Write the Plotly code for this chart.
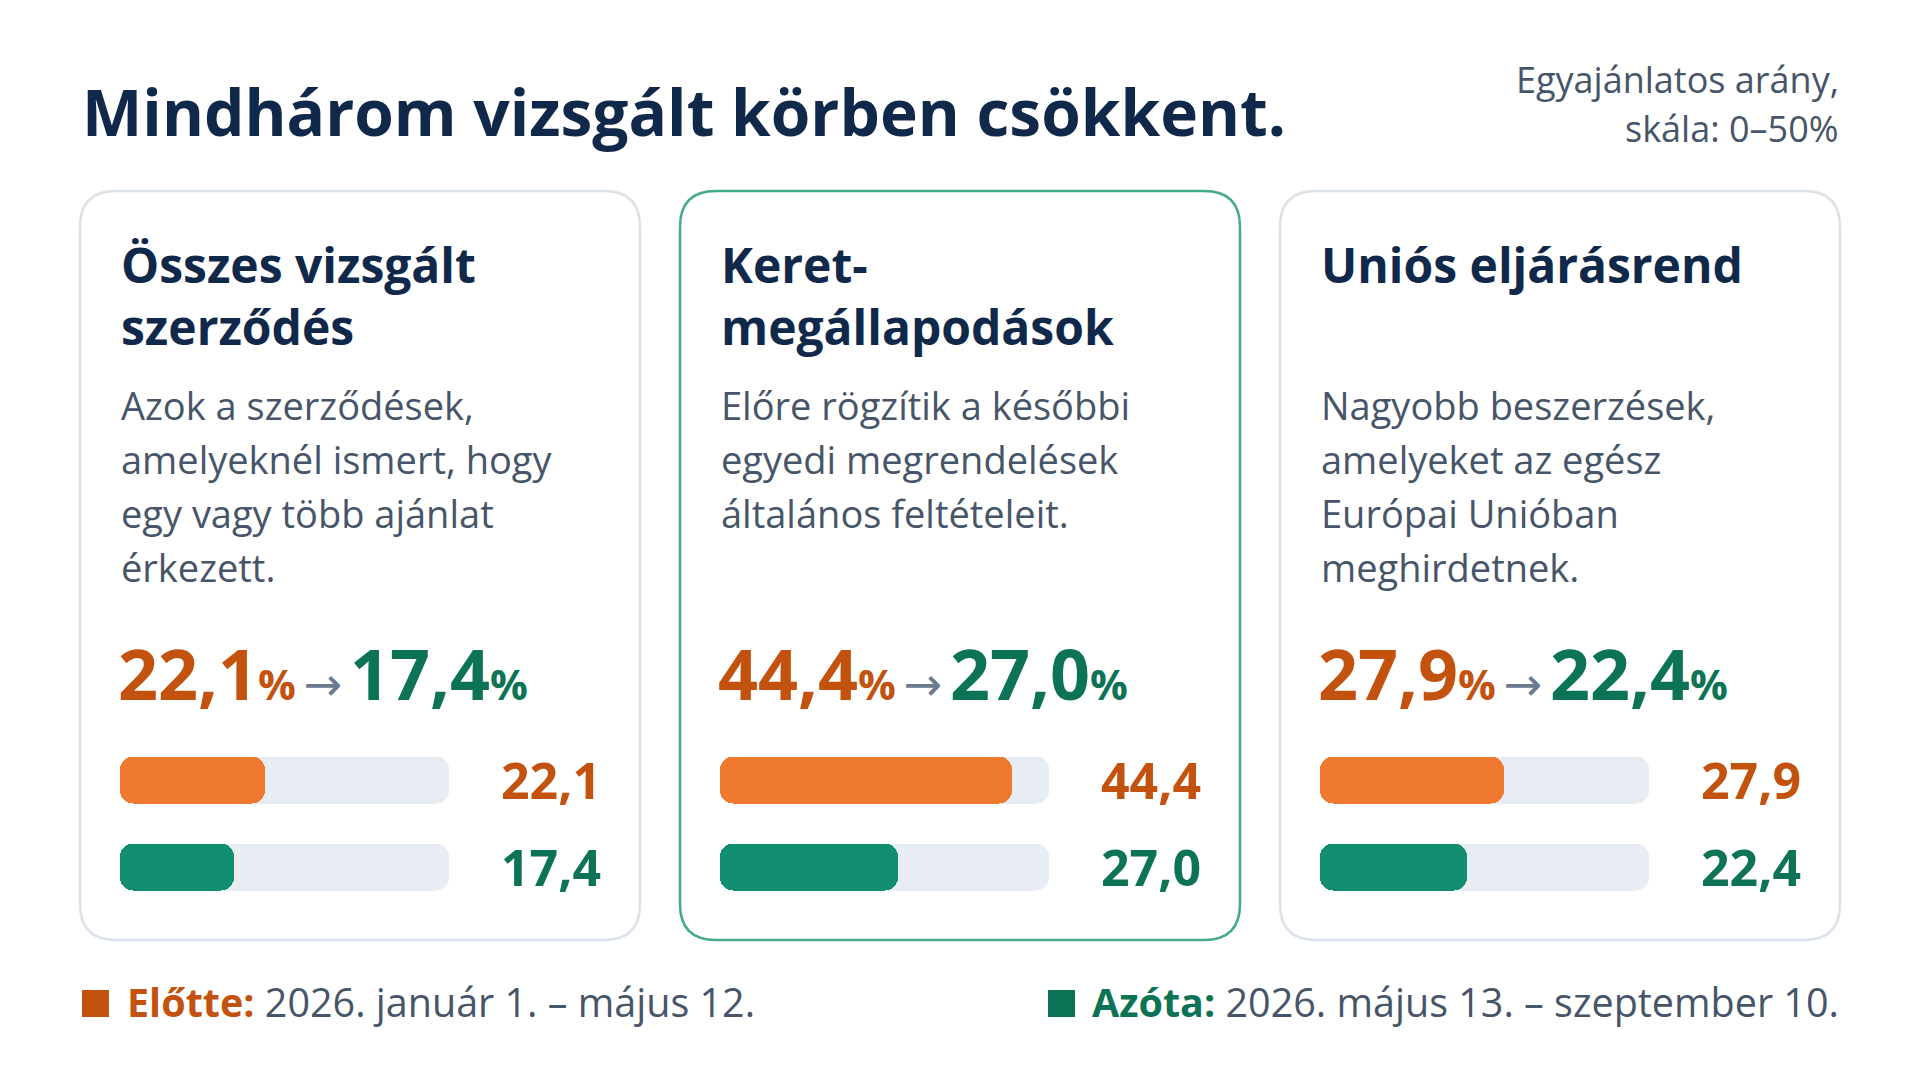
import plotly.graph_objects as go

# ---------------- data ----------------
card_titles = [["Összes vizsgált", "szerződés"], ["Keret-", "megállapodások"], ["Uniós eljárásrend"]]
card_desc = [
    ["Azok a szerződések,", "amelyeknél ismert, hogy", "egy vagy több ajánlat", "érkezett."],
    ["Előre rögzítik a későbbi", "egyedi megrendelések", "általános feltételeit."],
    ["Nagyobb beszerzések,", "amelyeket az egész", "Európai Unióban", "meghirdetnek."],
]
before_vals = [22.1, 44.4, 27.9]
after_vals = [17.4, 27.0, 22.4]
scale_max = 50
period_names = ["Előtte:", "Azóta:"]
period_dates = ["2026. január 1. – május 12.", "2026. május 13. – szeptember 10."]
title_text = "Mindhárom vizsgált körben csökkent."
subtitle_lines = ["Egyajánlatos arány,", "skála: 0–50%"]

# ---------------- style ----------------
W, H = 1920, 1080
FONT = "Open Sans"
NAVY = "#10284a"
GRAY = "#475569"
ORANGE_T = "#c4520f"
ORANGE_B = "#ef7a2f"
GREEN_T = "#0d7356"
GREEN_B = "#128f72"
TRACK = "#e8edf4"
ARROW = "#6b7b8f"
CARD_BORDER = "#dbe2ea"
CARD_HL = "#45aa8a"

def fmt(v):
    return f"{v:.1f}".replace(".", ",")

def px(x):
    return x / W

def py(y):
    return 1 - y / H

ASC = 0.388  # center offset from baseline (em)

annotations = []

def text(x, baseline, s, size, color, weight=400, anchor="left"):
    annotations.append(dict(
        x=px(x), y=py(baseline - ASC * size), xref="paper", yref="paper",
        xanchor=anchor, yanchor="middle", text=s, showarrow=False,
        font=dict(family=FONT, size=size, color=color, weight=weight),
        borderpad=0,
    ))

def rrect(x0, y0, x1, y1, r):
    pts = [
        f"M {px(x0 + r)},{py(y0)}",
        f"L {px(x1 - r)},{py(y0)}",
        f"Q {px(x1)},{py(y0)} {px(x1)},{py(y0 + r)}",
        f"L {px(x1)},{py(y1 - r)}",
        f"Q {px(x1)},{py(y1)} {px(x1 - r)},{py(y1)}",
        f"L {px(x0 + r)},{py(y1)}",
        f"Q {px(x0)},{py(y1)} {px(x0)},{py(y1 - r)}",
        f"L {px(x0)},{py(y0 + r)}",
        f"Q {px(x0)},{py(y0)} {px(x0 + r)},{py(y0)}",
        "Z",
    ]
    return " ".join(pts)

fig = go.Figure()
shapes = []

# header
text(81, 136, title_text, 64, NAVY, 700)
text(1840, 93, subtitle_lines[0], 36, GRAY, 400, "right")
text(1840, 142, subtitle_lines[1], 36, GRAY, 400, "right")

CARD_W, GAP, CARD_X0 = 560, 40, 80
BAR_X0, BAR_X1 = 120, 449
ROW_C = [780, 867]
ROW_STEP = ROW_C[1] - ROW_C[0]
BAR_W = 0.53

for i in range(3):
    cx = CARD_X0 + i * (CARD_W + GAP)
    shapes.append(dict(
        type="path", path=rrect(cx, 191, cx + CARD_W, 940, 36), xref="paper", yref="paper",
        fillcolor="white", line=dict(color=CARD_HL if i == 1 else CARD_BORDER, width=2.5),
        layer="below",
    ))
    lx = cx + 40
    for j, line in enumerate(card_titles[i]):
        text(lx, 283 + j * 62, line, 48, NAVY, 700)
    for j, line in enumerate(card_desc[i]):
        text(lx, 420 + j * 54, line, 38, GRAY, 400)
    big = (
        f"<span style='color:{ORANGE_T}'>{fmt(before_vals[i])}</span>"
        f"<span style='color:{ORANGE_T};font-size:42px'>%</span>"
        f"<span style='font-size:30px'> </span>"
        f"<span style='color:{ARROW};font-size:46px;font-weight:400;font-family:DejaVu Sans'>→</span>"
        f"<span style='font-size:30px'> </span>"
        f"<span style='color:{GREEN_T}'>{fmt(after_vals[i])}</span>"
        f"<span style='color:{GREEN_T};font-size:42px'>%</span>"
    )
    text(lx - 3, 700, big, 70, ORANGE_T, 700)

    n = "" if i == 0 else str(i + 1)
    xa, ya = "x" + n, "y" + n
    x0 = BAR_X0 + i * (CARD_W + GAP)
    x1 = BAR_X1 + i * (CARD_W + GAP)
    top = ROW_C[0] - ROW_STEP / 2
    bot = ROW_C[1] + ROW_STEP / 2
    fig.add_trace(go.Bar(
        x=[scale_max, scale_max], y=[0, 1], base=0, orientation="h", xaxis=xa, yaxis=ya,
        marker=dict(color=TRACK, cornerradius=13, line=dict(width=0)), width=BAR_W,
        hoverinfo="skip", showlegend=False,
    ))
    fig.add_trace(go.Bar(
        x=[before_vals[i], after_vals[i]], y=[0, 1], base=0, orientation="h", xaxis=xa, yaxis=ya,
        marker=dict(color=[ORANGE_B, GREEN_B], cornerradius=13, line=dict(width=0)), width=BAR_W,
        showlegend=False,
    ))
    fig.update_layout({
        ("xaxis" + n): dict(domain=[px(x0), px(x1)], range=[0, scale_max], visible=False,
                            fixedrange=True, anchor=ya),
        ("yaxis" + n): dict(domain=[py(bot), py(top)], range=[1.5, -0.5], visible=False,
                            fixedrange=True, anchor=xa),
    })
    for k, (v, col) in enumerate([(before_vals[i], ORANGE_T), (after_vals[i], GREEN_T)]):
        annotations.append(dict(
            x=px(cx + 522), y=k, xref="paper", yref=ya, xanchor="right", yanchor="middle",
            text=fmt(v), showarrow=False, borderpad=0,
            font=dict(family=FONT, size=50, color=col, weight=700),
        ))

# footer legend
LEG_FS = 39.5
shapes.append(dict(type="rect", xref="paper", yref="paper", x0=px(82), x1=px(109), y0=py(1017), y1=py(990),
                   fillcolor=ORANGE_T, line=dict(width=0)))
text(126, 1017, f"<span style='color:{ORANGE_T};font-weight:700'>{period_names[0]}</span> {period_dates[0]}",
     LEG_FS, GRAY)
shapes.append(dict(type="rect", xref="paper", yref="paper", x0=px(1048), x1=px(1075), y0=py(1017), y1=py(990),
                   fillcolor=GREEN_T, line=dict(width=0)))
text(1840, 1017, f"<span style='color:{GREEN_T};font-weight:700'>{period_names[1]}</span> {period_dates[1]}",
     LEG_FS, GRAY, 400, "right")

fig.update_layout(
    width=W, height=H, margin=dict(l=0, r=0, t=0, b=0),
    paper_bgcolor="white", plot_bgcolor="rgba(0,0,0,0)",
    barmode="overlay", bargap=0,
    shapes=shapes, annotations=annotations,
    font=dict(family=FONT),
)

fig.write_html("out.html", config={"displayModeBar": False},
               post_script="document.body.style.margin='0';document.body.style.overflow='hidden';")
